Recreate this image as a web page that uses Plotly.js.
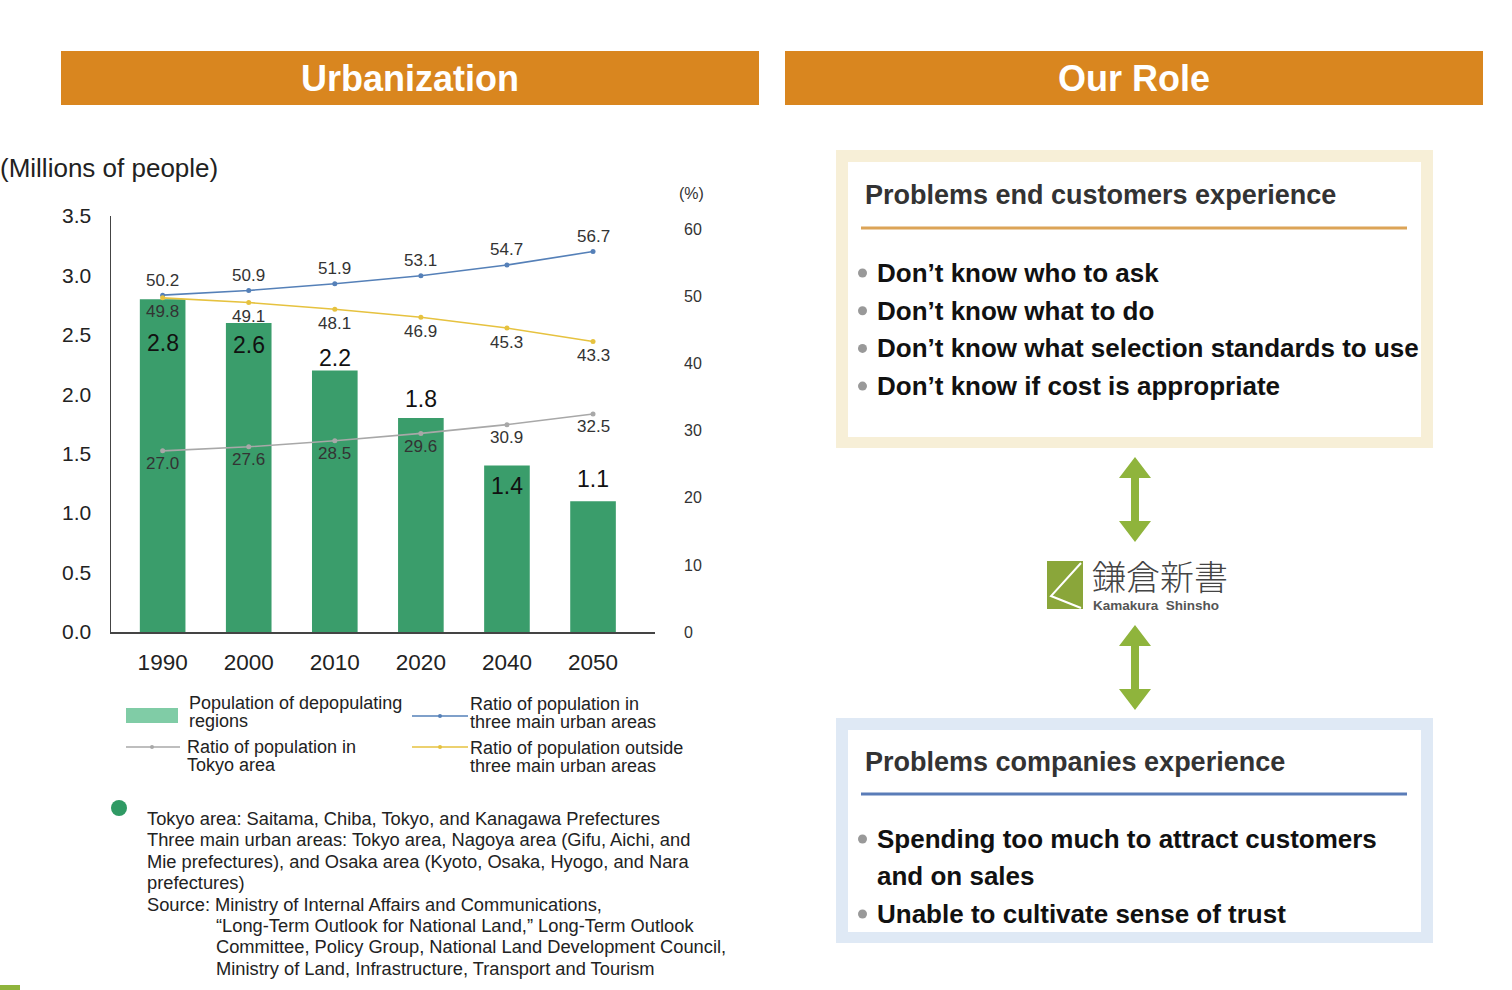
<!DOCTYPE html>
<html>
<head>
<meta charset="utf-8">
<script src="https://cdn.plot.ly/plotly-3.0.1.min.js"></script>
<style>html,body{margin:0;padding:0;background:#fff;}#chart{width:1512px;height:990px;}</style>
</head>
<body>
<div id="chart"></div>
<script>
// ---- data ----
const years = ['1990', '2000', '2010', '2020', '2040', '2050'];
const depopulatingPop = [2.8, 2.6, 2.2, 1.8, 1.4, 1.1];          // millions of people
const ratioThreeMain = [50.2, 50.9, 51.9, 53.1, 54.7, 56.7];      // %
const ratioOutsideMain = [49.8, 49.1, 48.1, 46.9, 45.3, 43.3];    // %
const ratioTokyo = [27.0, 27.6, 28.5, 29.6, 30.9, 32.5];          // %
const seriesNames = [['Population of depopulating', 'regions'], ['Ratio of population in', 'three main urban areas'],
  ['Ratio of population in', 'Tokyo area'], ['Ratio of population outside', 'three main urban areas']];
const customerProblems = ['Don’t know who to ask', 'Don’t know what to do',
  'Don’t know what selection standards to use', 'Don’t know if cost is appropriate'];
const companyProblems = ['Spending too much to attract customers', 'and on sales', 'Unable to cultivate sense of trust'];
const footnotes = ['Tokyo area: Saitama, Chiba, Tokyo, and Kanagawa Prefectures',
  'Three main urban areas: Tokyo area, Nagoya area (Gifu, Aichi, and',
  'Mie prefectures), and Osaka area (Kyoto, Osaka, Hyogo, and Nara',
  'prefectures)',
  'Source: Ministry of Internal Affairs and Communications,'];
const sourceLines = ['“Long-Term Outlook for National Land,” Long-Term Outlook',
  'Committee, Policy Group, National Land Development Council,',
  'Ministry of Land, Infrastructure, Transport and Tourism'];

// ---- styles / positions ----
const W = 1512, H = 990;
const X = p => p / W, Y = p => 1 - p / H;
const FONT = 'Liberation Sans, Arial, sans-serif';
const BAR_C = '#3a9d6b', BLUE = '#5580b8', GOLD = '#e6c23f', GRAY = '#a8a8a8';
const ORANGE = '#d9861f', ARROW = '#8fb43c';
const barLabelShift = [-44, -22, 13, 19, -20, 22];

const traces = [
  {type: 'bar', x: years, y: depopulatingPop, width: 0.53, marker: {color: BAR_C},
   name: 'Population of depopulating regions', showlegend: false, hoverinfo: 'x+y'},
  {type: 'scatter', mode: 'lines+markers', x: years, y: ratioThreeMain, yaxis: 'y2',
   line: {color: BLUE, width: 1.6}, marker: {color: BLUE, size: 5}, showlegend: false, name: 'Three main urban areas'},
  {type: 'scatter', mode: 'lines+markers', x: years, y: ratioOutsideMain, yaxis: 'y2',
   line: {color: GOLD, width: 1.6}, marker: {color: GOLD, size: 5}, showlegend: false, name: 'Outside three main urban areas'},
  {type: 'scatter', mode: 'lines+markers', x: years, y: ratioTokyo, yaxis: 'y2',
   line: {color: GRAY, width: 1.6}, marker: {color: GRAY, size: 5}, showlegend: false, name: 'Tokyo area'}
];

const ann = [];
const shapes = [];
function txt(t, x, y, size, opts) {
  ann.push(Object.assign({text: t, x: X(x), y: Y(y), xref: 'paper', yref: 'paper', showarrow: false,
    xanchor: 'left', yanchor: 'middle', font: {family: FONT, size: size, color: '#222'}}, opts || {}));
}
function rect(x0, y0, x1, y1, fill, line) {
  shapes.push({type: 'rect', xref: 'paper', yref: 'paper', x0: X(x0), x1: X(x1), y0: Y(y1), y1: Y(y0),
    fillcolor: fill, line: line || {width: 0}, layer: 'below'});
}

// data labels (x given as category index on the category axis)
years.forEach((yr, i) => {
  ann.push({x: i, y: depopulatingPop[i], xref: 'x', yref: 'y', text: depopulatingPop[i].toFixed(1), showarrow: false,
    yshift: barLabelShift[i], font: {family: FONT, size: 23, color: '#111'}});
  ann.push({x: i, y: ratioThreeMain[i], xref: 'x', yref: 'y2', text: ratioThreeMain[i].toFixed(1), showarrow: false,
    yshift: 15, font: {family: FONT, size: 17, color: '#333'}});
  ann.push({x: i, y: ratioOutsideMain[i], xref: 'x', yref: 'y2', text: ratioOutsideMain[i].toFixed(1), showarrow: false,
    yshift: -14, font: {family: FONT, size: 17, color: '#333'}});
  ann.push({x: i, y: ratioTokyo[i], xref: 'x', yref: 'y2', text: ratioTokyo[i].toFixed(1), showarrow: false,
    yshift: -13, font: {family: FONT, size: 17, color: '#333'}});
});

// headers
rect(61, 51, 759, 105, ORANGE);
rect(785, 51, 1483, 105, ORANGE);
txt('<b>Urbanization</b>', 410, 79, 36, {xanchor: 'center', font: {family: FONT, size: 36, color: '#fff'}});
txt('<b>Our Role</b>', 1134, 79, 36, {xanchor: 'center', font: {family: FONT, size: 36, color: '#fff'}});

// axis unit labels
txt('(Millions of people)', -2, 168, 26);
txt('(%)', 677, 193, 16, {font: {family: FONT, size: 16, color: '#333'}});

// legend
rect(126, 708, 178, 723, '#80cca6');
txt(seriesNames[0][0], 187, 703, 18);
txt(seriesNames[0][1], 187, 721, 18);
shapes.push({type: 'line', xref: 'paper', yref: 'paper', x0: X(412), x1: X(468), y0: Y(716), y1: Y(716), line: {color: BLUE, width: 1.5}});
shapes.push({type: 'circle', xref: 'paper', yref: 'paper', x0: X(438), x1: X(442), y0: Y(718), y1: Y(714), fillcolor: BLUE, line: {width: 0}});
txt(seriesNames[1][0], 468, 704, 18);
txt(seriesNames[1][1], 468, 722, 18);
shapes.push({type: 'line', xref: 'paper', yref: 'paper', x0: X(126), x1: X(180), y0: Y(747), y1: Y(747), line: {color: GRAY, width: 1.5}});
shapes.push({type: 'circle', xref: 'paper', yref: 'paper', x0: X(150), x1: X(154), y0: Y(749), y1: Y(745), fillcolor: GRAY, line: {width: 0}});
txt(seriesNames[2][0], 185, 747, 18);
txt(seriesNames[2][1], 185, 765, 18);
shapes.push({type: 'line', xref: 'paper', yref: 'paper', x0: X(412), x1: X(468), y0: Y(747), y1: Y(747), line: {color: GOLD, width: 1.5}});
shapes.push({type: 'circle', xref: 'paper', yref: 'paper', x0: X(438), x1: X(442), y0: Y(749), y1: Y(745), fillcolor: GOLD, line: {width: 0}});
txt(seriesNames[3][0], 468, 748, 18);
txt(seriesNames[3][1], 468, 766, 18);

// footnote
shapes.push({type: 'circle', xref: 'paper', yref: 'paper', x0: X(111), x1: X(127), y0: Y(816), y1: Y(800), fillcolor: '#2f9a64', line: {width: 0}});
footnotes.forEach((t, i) => txt(t, 145, 818 + i * 21.5, 18.3));
sourceLines.forEach((t, i) => txt(t, 214, 925 + i * 21.5, 18.3));
rect(0, 985, 20, 990, '#8fb43c');

// right panel: box 1
rect(836, 150, 1433, 448, '#f7efd7');
rect(848, 162, 1421, 437, '#ffffff');
txt('<b>Problems end customers experience</b>', 863, 195, 27, {font: {family: FONT, size: 27, color: '#333'}});
shapes.push({type: 'line', xref: 'paper', yref: 'paper', x0: X(861), x1: X(1407), y0: Y(228), y1: Y(228), line: {color: '#dca457', width: 3}});
customerProblems.forEach((t, i) => {
  const yy = 273 + i * 37.7;
  shapes.push({type: 'circle', xref: 'paper', yref: 'paper', x0: X(858), x1: X(867), y0: Y(yy + 4.5), y1: Y(yy - 4.5), fillcolor: '#999', line: {width: 0}});
  txt('<b>' + t + '</b>', 875, yy, 26, {font: {family: FONT, size: 26, color: '#111'}});
});

// right panel: box 2
rect(836, 718, 1433, 943, '#dfe9f5');
rect(848, 730, 1421, 932, '#ffffff');
txt('<b>Problems companies experience</b>', 863, 762, 27, {font: {family: FONT, size: 27, color: '#333'}});
shapes.push({type: 'line', xref: 'paper', yref: 'paper', x0: X(861), x1: X(1407), y0: Y(794), y1: Y(794), line: {color: '#5a7cb8', width: 3}});
[839, 876, 914].forEach((yy, i) => {
  if (i !== 1) shapes.push({type: 'circle', xref: 'paper', yref: 'paper', x0: X(858), x1: X(867), y0: Y(yy + 4.5), y1: Y(yy - 4.5), fillcolor: '#999', line: {width: 0}});
  txt('<b>' + companyProblems[i] + '</b>', 875, yy, 26, {font: {family: FONT, size: 26, color: '#111'}});
});

// double arrows
function dblArrow(cx, top, bottom) {
  const hw = 16, sw = 4, hh = 21;
  const pts = [[cx, top], [cx + hw, top + hh], [cx + sw, top + hh], [cx + sw, bottom - hh], [cx + hw, bottom - hh],
    [cx, bottom], [cx - hw, bottom - hh], [cx - sw, bottom - hh], [cx - sw, top + hh], [cx - hw, top + hh]];
  const path = 'M ' + pts.map(p => X(p[0]) + ',' + Y(p[1])).join(' L ') + ' Z';
  shapes.push({type: 'path', xref: 'paper', yref: 'paper', path: path, fillcolor: ARROW, line: {width: 0}});
}
dblArrow(1135, 457, 542);
dblArrow(1135, 625, 710);

// logo
rect(1047, 561, 1083, 609, '#8aa63a');
shapes.push({type: 'path', xref: 'paper', yref: 'paper',
  path: 'M ' + X(1081) + ',' + Y(563) + ' L ' + X(1051) + ',' + Y(596) + ' L ' + X(1081) + ',' + Y(608),
  line: {color: '#ffffff', width: 2}});
txt('鎌倉新書', 1090, 575, 34, {font: {family: 'Noto Sans CJK JP', size: 34, color: '#444', weight: 300}});
txt('<b>Kamakura  Shinsho</b>', 1091, 605, 13.5, {font: {family: FONT, size: 13.5, color: '#555'}});

const layout = {
  width: W, height: H, margin: {l: 0, r: 0, t: 0, b: 0},
  paper_bgcolor: '#fff', plot_bgcolor: 'rgba(0,0,0,0)', showlegend: false,
  xaxis: {type: 'category', domain: [X(111), X(655)], range: [-0.6, 5.72], showgrid: false, zeroline: false,
    showline: true, linecolor: '#444', linewidth: 1.5, ticks: '', ticklabelstandoff: 9,
    tickfont: {family: FONT, size: 22.5, color: '#222'}, fixedrange: true},
  yaxis: {domain: [Y(632), Y(216)], range: [0, 3.5], dtick: 0.5, tickformat: '.1f', showgrid: false, zeroline: false,
    showline: true, linecolor: '#444', linewidth: 1.5, ticks: '', ticklabelstandoff: 14,
    tickfont: {family: FONT, size: 21, color: '#222'}, fixedrange: true},
  yaxis2: {overlaying: 'y', side: 'right', range: [0, 62], tickvals: [0, 10, 20, 30, 40, 50, 60], showgrid: false,
    zeroline: false, showline: false, ticks: '', ticklabelstandoff: 28,
    tickfont: {family: FONT, size: 16, color: '#333'}, fixedrange: true},
  annotations: ann, shapes: shapes
};
Plotly.newPlot('chart', traces, layout, {displayModeBar: false, staticPlot: true});
</script>
</body>
</html>
